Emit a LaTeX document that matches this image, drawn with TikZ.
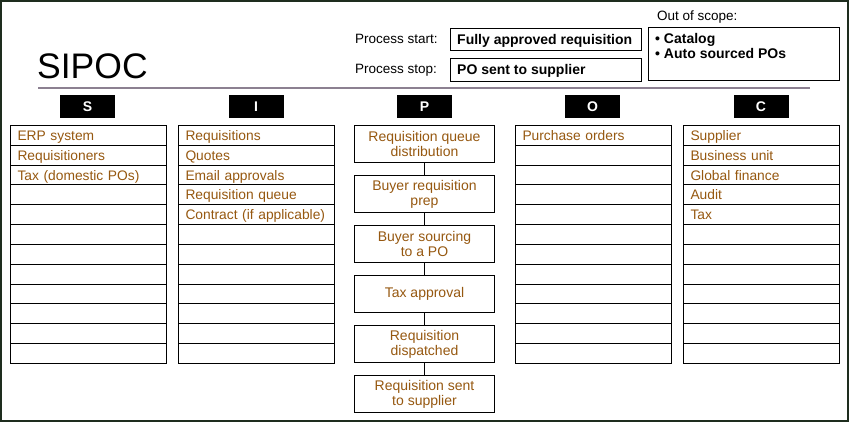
\documentclass[tikz,border=0pt]{standalone}
\usepackage{fontspec}
\setmainfont{Liberation Sans}
\definecolor{txtbrown}{RGB}{150,88,16}
\definecolor{sepline}{RGB}{140,128,145}
\definecolor{framecol}{RGB}{30,45,30}
\begin{document}
\begin{tikzpicture}[x=1pt,y=-1pt,
  cell/.style={draw=black,line width=1pt,minimum width=156pt,minimum height=19.83pt,
    inner xsep=7pt,inner ysep=0pt,text width=142pt,align=left,anchor=north west,
    text=txtbrown,font=\fontsize{13.8}{15}\selectfont},
  celltxt/.style={cell,draw=none,yshift=-2pt},
  procbox/.style={draw=black,line width=1pt,minimum width=140pt,minimum height=37pt,
    inner sep=2pt,align=center,anchor=north west,text=txtbrown,
    font=\fontsize{14}{15}\selectfont},
  hdr/.style={fill=black,text=white,minimum width=55pt,minimum height=23pt,inner sep=0pt,
    font=\fontsize{14}{16}\selectfont\bfseries},
  lbl/.style={anchor=base west,inner sep=0pt,font=\fontsize{13.5}{15}\selectfont},
  valbox/.style={draw=black,line width=1pt,minimum width=191pt,minimum height=22pt,
    anchor=north west,inner sep=0pt},
  valtxt/.style={anchor=base west,inner sep=0pt,font=\fontsize{14}{15}\selectfont\bfseries},
  link/.style={draw=black,line width=1pt}]
\useasboundingbox (0,0) rectangle (849,422);
\fill[white] (0,0) rectangle (849,422);
\draw[framecol,line width=2pt] (1,1) rectangle (848,421);

% title
\node[anchor=base west,inner sep=0pt,font=\fontsize{35.5}{40}\selectfont] (title) at (37,79) {SIPOC};
\draw[sepline,line width=2pt] (38,88) -- (810,88);

% process start/stop
\node[lbl] (pstartl) at (355,44) {Process start:};
\node[valbox] (pstart) at (450,28) {};
\node[valtxt] (pstartt) at (457,45) {Fully approved requisition};
\node[lbl] (pstopl) at (355,74) {Process stop:};
\node[valbox,minimum height=23pt] (pstop) at (450,58) {};
\node[valtxt] (pstopt) at (457,75) {PO sent to supplier};

% out of scope
\node[lbl] (oosl) at (657,21) {Out of scope:};
\node[draw=black,line width=1pt,minimum width=191pt,minimum height=53pt,anchor=north west,
  inner sep=0pt] (oos) at (648,27) {};
\node[anchor=north west,inner sep=0pt,align=left,font=\fontsize{14}{15}\selectfont\bfseries]
  (oostxt) at (655,33) {• Catalog\\• Auto sourced POs};

% headers
\node[hdr] (hS) at (87.5,107) {S};
\node[hdr] (hI) at (256,107) {I};
\node[hdr] (hP) at (424.5,107) {P};
\node[hdr] (hO) at (592.5,107) {O};
\node[hdr] (hC) at (761,107) {C};

% columns
\foreach \col/\x in {S/10,I/178,O/515,C/683}{
  \foreach \r in {0,...,11}{
    \node[cell] (\col\r) at (\x,{125+19.83*\r}) {\strut};
  }
}
% texts
\node[celltxt] at (10,125) {\strut ERP system};
\node[celltxt] at (10,144.83) {\strut Requisitioners};
\node[celltxt] at (10,164.66) {\strut Tax (domestic POs)};
\node[celltxt] at (178,125) {\strut Requisitions};
\node[celltxt] at (178,144.83) {\strut Quotes};
\node[celltxt] at (178,164.66) {\strut Email approvals};
\node[celltxt] at (178,184.49) {\strut Requisition queue};
\node[celltxt] at (178,204.32) {\strut Contract (if applicable)};
\node[celltxt] at (515,125) {\strut Purchase orders};
\node[celltxt] at (683,125) {\strut Supplier};
\node[celltxt] at (683,144.83) {\strut Business unit};
\node[celltxt] at (683,164.66) {\strut Global finance};
\node[celltxt] at (683,184.49) {\strut Audit};
\node[celltxt] at (683,204.32) {\strut Tax};

% process steps
\node[procbox] (p1) at (354,125) {Requisition queue\\distribution};
\node[procbox] (p2) at (354,175) {Buyer requisition\\prep};
\node[procbox] (p3) at (354,225) {Buyer sourcing\\to a PO};
\node[procbox] (p4) at (354,275) {Tax approval};
\node[procbox] (p5) at (354,325) {Requisition\\dispatched};
\node[procbox] (p6) at (354,375) {Requisition sent\\to supplier};
\draw[link] (p1) -- (p2);
\draw[link] (p2) -- (p3);
\draw[link] (p3) -- (p4);
\draw[link] (p4) -- (p5);
\draw[link] (p5) -- (p6);
\end{tikzpicture}
\end{document}
